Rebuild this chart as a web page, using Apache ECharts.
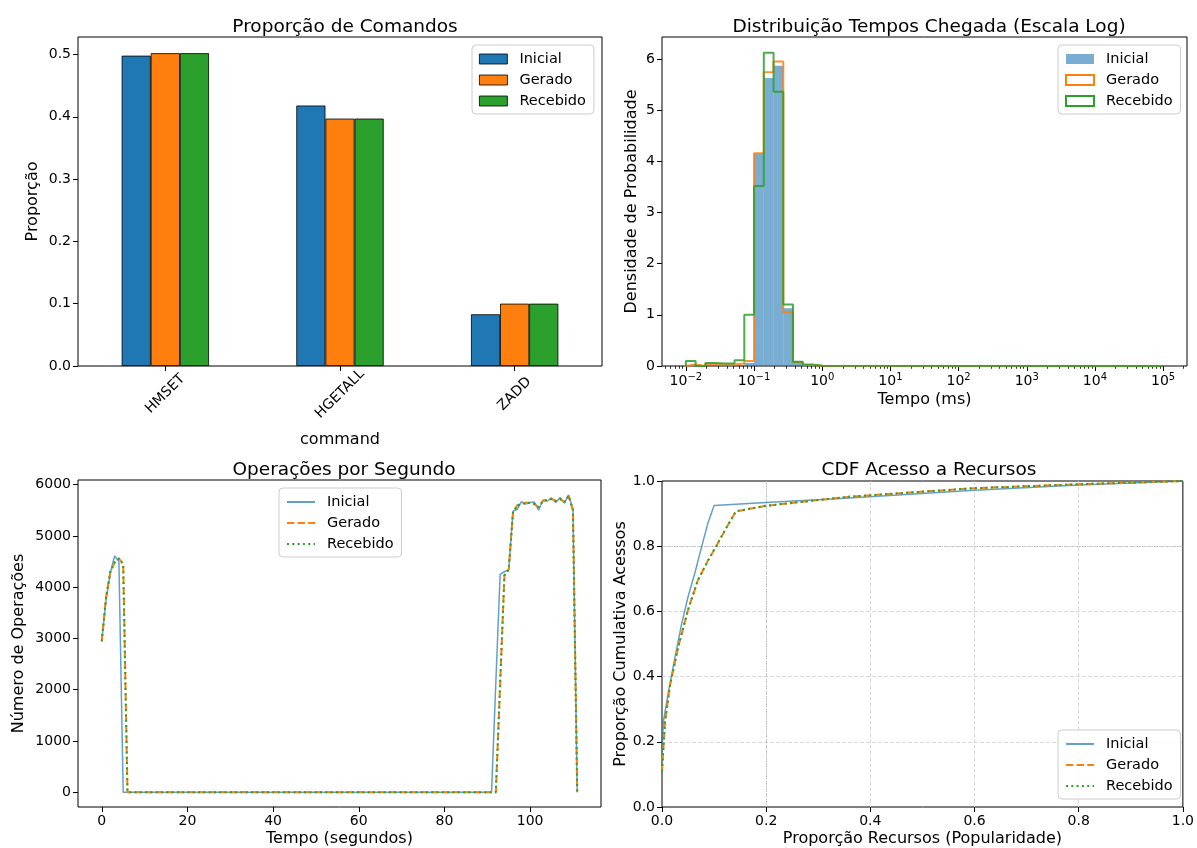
<!DOCTYPE html>
<html>
<head>
<meta charset="utf-8">
<script src="https://cdn.jsdelivr.net/npm/echarts@6/dist/echarts.min.js"></script>
<style>
  html, body { margin: 0; padding: 0; background: #fff; }
  #chart { width: 1197px; height: 848px; }
</style>
</head>
<body>
<div id="chart"></div>
<script>
// ---- dados ----
const comandos = ['HMSET', 'HGETALL', 'ZADD']
const propInicial = [0.498, 0.418, 0.083]
const propGerado = [0.502, 0.397, 0.100]
const propRecebido = [0.502, 0.397, 0.100]

// histograma: bordas dos bins em log10(ms), último bin = cauda até 10^5
const binEdgesLog = [-2.0, -1.857, -1.714, -1.571, -1.429, -1.286, -1.143, -1.0, -0.857, -0.714, -0.571, -0.429, -0.286, -0.143, 0.0, 5.0]
const densInicial = [0.01, 0, 0.01, 0.01, 0.01, 0.02, 0.06, 4.15, 5.63, 5.87, 1.13, 0.09, 0.02, 0.005, 0]
const densGerado = [0.03, 0, 0.04, 0.03, 0.03, 0.05, 0.10, 4.16, 5.74, 5.95, 1.05, 0.08, 0.02, 0.005, 0]
const densRecebido = [0.10, 0, 0.06, 0.05, 0.05, 0.11, 1.00, 3.52, 6.12, 5.36, 1.20, 0.085, 0.03, 0.005, 0]

// operações por segundo
const opsTempoInicial = [0, 1, 2, 3, 4, 5, 91, 92, 93, 94, 95, 96, 97, 98, 99, 100, 101, 102, 103, 104, 105, 106, 107, 108, 109, 110, 111]
const opsInicial = [2950, 3750, 4280, 4610, 4500, 0, 0, 2150, 4250, 4300, 4340, 5480, 5520, 5670, 5620, 5650, 5660, 5500, 5700, 5680, 5740, 5650, 5750, 5640, 5800, 5520, 0]
const opsTempoGerado = [0, 1, 2, 3, 4, 5, 6, 92, 93, 94, 95, 96, 97, 98, 99, 100, 101, 102, 103, 104, 105, 106, 107, 108, 109, 110, 111]
const opsGerado = [2940, 3800, 4300, 4480, 4560, 4450, 0, 0, 2100, 4230, 4340, 5450, 5600, 5610, 5650, 5640, 5620, 5560, 5680, 5700, 5720, 5680, 5720, 5660, 5780, 5500, 0]
// recebido coincide com gerado
const opsTempoRecebido = opsTempoGerado
const opsRecebido = opsGerado

// CDF acesso a recursos
const cdfXInicial = [0, 0.0025, 0.012, 0.025, 0.0375, 0.05, 0.063, 0.076, 0.088, 0.1, 0.2, 0.36, 0.6, 0.8, 1.0]
const cdfYInicial = [0.17, 0.26, 0.35, 0.46, 0.56, 0.645, 0.717, 0.798, 0.87, 0.925, 0.934, 0.948, 0.972, 0.988, 1.0]
const cdfXGerado = [0, 0.0057, 0.015, 0.031, 0.05, 0.069, 0.088, 0.104, 0.123, 0.142, 0.2, 0.36, 0.6, 0.8, 1.0]
const cdfYGerado = [0.11, 0.26, 0.37, 0.49, 0.605, 0.696, 0.755, 0.8, 0.855, 0.907, 0.924, 0.952, 0.978, 0.99, 1.0]
const cdfXRecebido = cdfXGerado
const cdfYRecebido = cdfYGerado

// ---- estilo ----
const FONT = 'DejaVu Sans'
const BLUE = '#1f77b4', ORANGE = '#ff7f0e', GREEN = '#2ca02c'
const BLUE_A = 'rgba(31,119,180,0.7)'
const DASH = [7.4, 3.2], DOT = [2, 3.3]

const pairs = (xs, ys) => xs.map((x, i) => [x, ys[i]])

// contorno tipo "step" de histograma
function stepOutline(edges, h) {
  let pts = [[edges[0], 0]]
  for (let i = 0; i < h.length; i++) {
    pts.push([edges[i], h[i]])
    pts.push([edges[i + 1], h[i]])
  }
  pts.push([edges[edges.length - 1], 0])
  return pts
}

function logLabel(v) {
  let e = String(Math.round(v)).replace('-', '\u2212')
  return '{b|10}{s|' + e + '}'
}
let minorTicks = []
for (let n = -3; n <= 5; n++) {
  for (let k = 2; k <= 9; k++) {
    let v = n + Math.log10(k)
    if (v > -2.35 && v < 5.35) minorTicks.push(v)
  }
}

const grids = [
  {left: 78, top: 37, width: 524, height: 329},
  {left: 662, top: 37, width: 525, height: 329},
  {left: 78, top: 480, width: 523, height: 328},
  {left: 662, top: 481, width: 525, height: 327}
]
grids.forEach(g => { g.show = true; g.borderColor = '#000'; g.borderWidth = 1; g.backgroundColor = 'transparent' })

const noLine = {show: false, onZero: false}
const tick = {show: true, inside: false, length: 5, lineStyle: {color: '#000', width: 1}}
const lbl = {color: '#000', fontFamily: FONT, fontSize: 14}
const nameStyle = {color: '#000', fontFamily: FONT, fontSize: 16}
const cdfSplit = {show: true, showMinLine: false, showMaxLine: false, lineStyle: {color: '#cfcfcf', width: 0.8, type: [4, 2]}}

function legend(names, pos, extra) {
  return Object.assign({
    orient: 'vertical',
    data: names,
    formatter: n => n.split('@')[0],
    itemWidth: 28, itemHeight: 10, itemGap: 5,
    padding: [6, 8, 5, 7],
    backgroundColor: 'rgba(255,255,255,0.8)',
    borderColor: '#cccccc', borderWidth: 1, borderRadius: 4,
    textStyle: {color: '#000', fontFamily: FONT, fontSize: 14.5, lineHeight: 16, padding: [0, 0, 0, 7]},
    selectedMode: false
  }, pos, extra || {})
}
// itens de legenda só com a linha (sem símbolo)
const lineItems = suffix => ['Inicial', 'Gerado', 'Recebido'].map(n => ({name: n + '@' + suffix, itemStyle: {opacity: 0}}))

const option = {
  animation: false,
  backgroundColor: '#fff',
  textStyle: {fontFamily: FONT},
  title: [
    {text: 'Proporção de Comandos', left: 340, top: 13, textAlign: 'center'},
    {text: 'Distribuição Tempos Chegada (Escala Log)', left: 924, top: 13, textAlign: 'center'},
    {text: 'Operações por Segundo', left: 339, top: 456, textAlign: 'center'},
    {text: 'CDF Acesso a Recursos', left: 924, top: 456, textAlign: 'center'}
  ].map(t => Object.assign(t, {textStyle: {color: '#000', fontFamily: FONT, fontSize: 18.5, fontWeight: 'normal'}})),
  grid: grids,
  legend: [
    legend(['Inicial@bar', 'Gerado@bar', 'Recebido@bar'].map(n => ({name: n, icon: 'rect', itemStyle: {borderWidth: 0.8, borderColor: '#000'}})), {left: 472, top: 45}),
    legend([
      {name: 'Inicial@hist', icon: 'rect', itemStyle: {color: 'rgba(31,119,180,0.6)'}},
      {name: 'Gerado@hist', icon: 'rect', itemStyle: {color: '#fff', borderColor: ORANGE, borderWidth: 2}},
      {name: 'Recebido@hist', icon: 'rect', itemStyle: {color: '#fff', borderColor: GREEN, borderWidth: 2}}
    ], {left: 1058, top: 45}),
    legend(lineItems('ops'), {left: 279, top: 488}),
    legend(lineItems('cdf'), {left: 1058, top: 730})
  ],
  xAxis: [
    {
      gridIndex: 0, type: 'category', data: comandos, boundaryGap: true,
      axisLine: noLine, axisTick: Object.assign({alignWithLabel: true}, tick),
      axisLabel: Object.assign({rotate: 45, align: 'center', verticalAlign: 'middle', margin: 28}, lbl),
      name: 'command', nameLocation: 'middle', nameGap: 66, nameTextStyle: nameStyle
    },
    {
      gridIndex: 1, type: 'value', min: -2.35, max: 5.35, position: 'bottom',
      axisLine: noLine, splitLine: {show: false},
      axisTick: Object.assign({customValues: [-2, -1, 0, 1, 2, 3, 4, 5]}, tick),
      axisLabel: Object.assign({
        customValues: [-2, -1, 0, 1, 2, 3, 4, 5], formatter: logLabel, margin: 6,
        rich: {b: {fontFamily: FONT, fontSize: 14, color: '#000'}, s: {fontFamily: FONT, fontSize: 10, color: '#000', padding: [0, 0, 8, 0]}}
      }, lbl),
      name: 'Tempo (ms)', nameLocation: 'middle', nameGap: 26, nameTextStyle: nameStyle
    },
    {
      gridIndex: 1, type: 'value', min: -2.35, max: 5.35, position: 'bottom',
      axisLine: noLine, splitLine: {show: false}, axisLabel: {show: false},
      axisTick: {show: true, customValues: minorTicks, length: 2.8, lineStyle: {color: '#000', width: 0.8}}
    },
    {
      gridIndex: 2, type: 'value', min: -5.55, max: 116.55,
      axisLine: noLine, splitLine: {show: false},
      axisTick: Object.assign({customValues: [0, 20, 40, 60, 80, 100]}, tick),
      axisLabel: Object.assign({customValues: [0, 20, 40, 60, 80, 100], formatter: v => String(v), margin: 7}, lbl),
      name: 'Tempo (segundos)', nameLocation: 'middle', nameGap: 24, nameTextStyle: nameStyle
    },
    {
      gridIndex: 3, type: 'value', min: 0, max: 1, interval: 0.2,
      axisLine: noLine, splitLine: cdfSplit, axisTick: tick,
      axisLabel: Object.assign({formatter: v => v.toFixed(1), margin: 7}, lbl),
      name: 'Proporção Recursos (Popularidade)', nameLocation: 'middle', nameGap: 24, nameTextStyle: nameStyle
    }
  ],
  yAxis: [
    {
      gridIndex: 0, type: 'value', min: 0, max: 0.528, interval: 0.1,
      axisLine: noLine, splitLine: {show: false}, axisTick: tick,
      axisLabel: Object.assign({formatter: v => v.toFixed(1), margin: 7, showMaxLabel: false}, lbl),
      name: 'Proporção', nameLocation: 'middle', nameGap: 37, nameRotate: 90, nameTextStyle: nameStyle
    },
    {
      gridIndex: 1, type: 'value', min: 0, max: 6.43, interval: 1,
      axisLine: noLine, splitLine: {show: false}, axisTick: tick,
      axisLabel: Object.assign({margin: 7, showMaxLabel: false}, lbl),
      name: 'Densidade de Probabilidade', nameLocation: 'middle', nameGap: 22, nameRotate: 90, nameTextStyle: nameStyle
    },
    {
      gridIndex: 2, type: 'value', min: -290, max: 6090,
      axisLine: noLine, splitLine: {show: false},
      axisTick: Object.assign({customValues: [0, 1000, 2000, 3000, 4000, 5000, 6000]}, tick),
      axisLabel: Object.assign({customValues: [0, 1000, 2000, 3000, 4000, 5000, 6000], formatter: v => String(v), margin: 7}, lbl),
      name: 'Número de Operações', nameLocation: 'middle', nameGap: 51, nameRotate: 90, nameTextStyle: nameStyle
    },
    {
      gridIndex: 3, type: 'value', min: 0, max: 1, interval: 0.2,
      axisLine: noLine, splitLine: cdfSplit, axisTick: tick,
      axisLabel: Object.assign({formatter: v => v.toFixed(1), margin: 7}, lbl),
      name: 'Proporção Cumulativa Acessos', nameLocation: 'middle', nameGap: 33, nameRotate: 90, nameTextStyle: nameStyle
    }
  ],
  series: [
    // --- barras ---
    {name: 'Inicial@bar', type: 'bar', xAxisIndex: 0, yAxisIndex: 0, data: propInicial, barGap: '0%', barCategoryGap: '50%',
      itemStyle: {color: BLUE, borderColor: '#000', borderWidth: 0.8}},
    {name: 'Gerado@bar', type: 'bar', xAxisIndex: 0, yAxisIndex: 0, data: propGerado, barGap: '0%', barCategoryGap: '50%',
      itemStyle: {color: ORANGE, borderColor: '#000', borderWidth: 0.8}},
    {name: 'Recebido@bar', type: 'bar', xAxisIndex: 0, yAxisIndex: 0, data: propRecebido, barGap: '0%', barCategoryGap: '50%',
      itemStyle: {color: GREEN, borderColor: '#000', borderWidth: 0.8}},
    // --- histograma ---
    {
      name: 'Inicial@hist', type: 'custom', xAxisIndex: 1, yAxisIndex: 1,
      data: densInicial.map((h, i) => [binEdgesLog[i], binEdgesLog[i + 1], h]),
      encode: {x: [0, 1], y: 2},
      itemStyle: {color: 'rgba(31,119,180,0.6)'},
      renderItem: function (params, api) {
        const p0 = api.coord([api.value(0), api.value(2)])
        const p1 = api.coord([api.value(1), 0])
        return {type: 'rect', shape: {x: p0[0], y: p0[1], width: p1[0] - p0[0], height: p1[1] - p0[1]},
          style: {fill: 'rgba(31,119,180,0.6)'}}
      }
    },
    {name: 'Gerado@hist', type: 'line', xAxisIndex: 1, yAxisIndex: 1, symbol: 'none', data: stepOutline(binEdgesLog, densGerado),
      lineStyle: {color: ORANGE, width: 2, opacity: 0.85}, itemStyle: {color: ORANGE}},
    {name: 'Recebido@hist', type: 'line', xAxisIndex: 1, yAxisIndex: 1, symbol: 'none', data: stepOutline(binEdgesLog, densRecebido),
      lineStyle: {color: GREEN, width: 2, opacity: 0.85}, itemStyle: {color: GREEN}},
    // --- operações por segundo ---
    {name: 'Inicial@ops', type: 'line', xAxisIndex: 3, yAxisIndex: 2, symbol: 'none', data: pairs(opsTempoInicial, opsInicial),
      lineStyle: {color: BLUE_A, width: 1.5}, itemStyle: {color: BLUE_A}},
    {name: 'Gerado@ops', type: 'line', xAxisIndex: 3, yAxisIndex: 2, symbol: 'none', data: pairs(opsTempoGerado, opsGerado),
      lineStyle: {color: ORANGE, width: 2, type: DASH}, itemStyle: {color: ORANGE}},
    {name: 'Recebido@ops', type: 'line', xAxisIndex: 3, yAxisIndex: 2, symbol: 'none', data: pairs(opsTempoRecebido, opsRecebido),
      lineStyle: {color: GREEN, width: 2, type: DOT}, itemStyle: {color: GREEN}},
    // --- CDF ---
    {name: 'Inicial@cdf', type: 'line', xAxisIndex: 4, yAxisIndex: 3, symbol: 'none', data: pairs(cdfXInicial, cdfYInicial),
      lineStyle: {color: BLUE_A, width: 1.5}, itemStyle: {color: BLUE_A},
      markLine: {silent: true, symbol: 'none', label: {show: false},
        lineStyle: {color: '#999', width: 0.8, type: [1, 1.5], opacity: 0.8},
        data: [{yAxis: 0.8}, {xAxis: 0.2}]}},
    {name: 'Gerado@cdf', type: 'line', xAxisIndex: 4, yAxisIndex: 3, symbol: 'none', data: pairs(cdfXGerado, cdfYGerado),
      lineStyle: {color: ORANGE, width: 2, type: DASH}, itemStyle: {color: ORANGE}},
    {name: 'Recebido@cdf', type: 'line', xAxisIndex: 4, yAxisIndex: 3, symbol: 'none', data: pairs(cdfXRecebido, cdfYRecebido),
      lineStyle: {color: GREEN, width: 2, type: DOT}, itemStyle: {color: GREEN}}
  ]
}

const myChart = echarts.init(document.getElementById('chart'), null, {renderer: 'canvas'})
myChart.setOption(option)
</script>
</body>
</html>
